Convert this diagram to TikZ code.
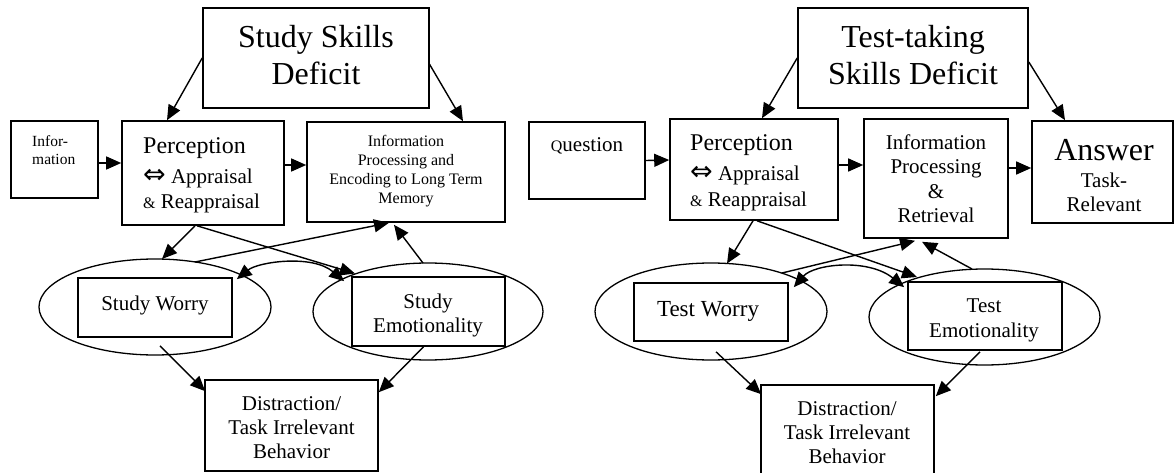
\documentclass[tikz,border=0pt]{standalone}
\usepackage{fontspec}
\setmainfont{Liberation Serif}
\newfontfamily\symf{DejaVu Sans}
\usetikzlibrary{arrows.meta,calc,shapes.geometric}
\newcommand{\dblarrow}{{\fontsize{27}{25}\selectfont\symf ⇔}}
\begin{document}
\begin{tikzpicture}[x=1pt,y=-1pt,
  box/.style={draw,line width=1.6pt,rectangle,inner sep=0pt,fill=white},
  oval/.style={draw,line width=1.3pt,ellipse,inner sep=0pt},
  arr/.style={line width=1.4pt,-{Triangle[length=15pt,width=13pt]}},
  darr/.style={line width=1.4pt,{Triangle[length=15pt,width=13pt]}-{Triangle[length=15pt,width=13pt]}},
  txt/.style={inner sep=0pt,align=center},
  f32/.style={font=\fontsize{32}{37}\selectfont},
  f21/.style={font=\fontsize{21}{24}\selectfont},
  f16/.style={font=\fontsize{16}{18.7}\selectfont},
]
\useasboundingbox (0,0) rectangle (1174,473);
\clip (0,0) rectangle (1174,473);

% ---------- left diagram ----------
\node[oval,minimum width=232pt,minimum height=96pt] (swE) at (155,307) {};
\node[oval,minimum width=230pt,minimum height=97pt] (seE) at (428,311.5) {};

\node[box,minimum width=226pt,minimum height=100pt] (ssd) at (316,58) {};
\node[box,minimum width=87pt,minimum height=77pt] (info) at (54.5,159.5) {};
\node[box,minimum width=162pt,minimum height=104pt] (perc1) at (203,173) {};
\node[box,minimum width=198pt,minimum height=100pt] (ip1) at (406,172) {};
\node[box,minimum width=154pt,minimum height=59pt] (swb) at (155,307.5) {};
\node[box,minimum width=153pt,minimum height=69pt] (seb) at (428.5,311.5) {};
\node[box,minimum width=173pt,minimum height=91pt] (dist1) at (291.5,425.5) {};

\node[txt,f32,anchor=base] (ssdT) at (316,85) {Study Skills\\Deficit};
\node[txt,align=left,anchor=base west,font=\fontsize{15.5}{18}\selectfont] (infoT) at (32,165) {Infor-\\mation};
\node[txt,align=left,anchor=base west,font=\fontsize{21}{25}\selectfont] (perc1T) at (143,208)
  {{\fontsize{24}{25}\selectfont Perception}\\[5pt]\dblarrow{} Appraisal\\{\fontsize{16}{25}\selectfont\&} Reappraisal};
\node[txt,f16,anchor=base] (ip1T) at (406,203) {Information\\Processing and\\Encoding to Long Term\\Memory};
\node[txt,f21,anchor=base] (swT) at (155,310) {Study Worry};
\node[txt,f21,anchor=base] (seT) at (428,332) {Study\\Emotionality};
\node[txt,f21,anchor=base] (dist1T) at (291.5,458) {Distraction/\\Task Irrelevant\\Behavior};

\draw[arr] ($(info.east)+(0,3.5)$) -- ($(perc1.west)+(0,-10)$);
\draw[arr] ($(perc1.east)+(0,-8)$) -- ($(ip1.west)+(0,-7)$);
\draw[arr] (ssd.west) -- ($(perc1.north)+(-36,0)$);
\draw[arr] ($(ssd.east)+(-1,5)$) -- ($(ip1.north)+(57,0)$);
\draw[arr] ($(perc1.south)+(-8,0)$) -- ($(swE.center)+(7,-48)$);
\draw[arr] ($(perc1.south)+(-6,0)$) -- ($(seE.center)+(-73,-38)$);
\draw[arr] ($(swE.center)+(40,-45)$) -- ($(ip1.south)+(-17,0)$);
\draw[arr] ($(seE.center)+(-5,-48.5)$) -- ($(ip1.south)+(-12,2)$);
\draw[darr] ($(swb.north east)+(4,2)$) .. controls (258,262) and (312,254) .. ($(seb.north west)+(-7,5)$);
\draw[arr] ($(swb.south)+(5,8)$) -- ($(dist1.north west)+(1,12)$);
\draw[arr] ($(seb.south)+(-5,0)$) -- ($(dist1.north east)+(0,13)$);

% ---------- right diagram ----------
\node[oval,minimum width=232pt,minimum height=97pt] (twE) at (711,311.5) {};
\node[oval,minimum width=231pt,minimum height=96pt] (teE) at (984.5,317) {};

\node[box,minimum width=230pt,minimum height=100pt] (tsd) at (913,58) {};
\node[box,minimum width=116pt,minimum height=77pt] (q) at (587,160.5) {};
\node[box,minimum width=168pt,minimum height=101pt] (perc2) at (754,169.5) {};
\node[box,minimum width=144pt,minimum height=119pt] (ip2) at (936,178.5) {};
\node[box,minimum width=141pt,minimum height=102pt] (ans) at (1102.5,172) {};
\node[box,minimum width=154pt,minimum height=58pt] (twb) at (711,312) {};
\node[box,minimum width=154pt,minimum height=68pt] (teb) at (985,316) {};
\node[box,minimum width=173pt,minimum height=100pt] (dist2) at (847.5,435) {};

\node[txt,f32,anchor=base] (tsdT) at (913,85) {Test-taking\\Skills Deficit};
\node[txt,f21,anchor=base] (qT) at (587,152) {{\fontsize{16}{18}\selectfont Q}uestion};
\node[txt,align=left,anchor=base west,font=\fontsize{21}{25}\selectfont] (perc2T) at (690,206)
  {{\fontsize{24}{25}\selectfont Perception}\\[5pt]\dblarrow{} Appraisal\\{\fontsize{16}{25}\selectfont\&} Reappraisal};
\node[txt,f21,anchor=base] (ip2T) at (936,222) {Information\\Processing\\\&\\Retrieval};
\node[txt,anchor=base,font=\fontsize{21}{23}\selectfont] (ansT) at (1104,211) {{\fontsize{32}{23}\selectfont Answer}\\[5pt]Task-\\Relevant};
\node[txt,anchor=base,font=\fontsize{23}{24}\selectfont] (twT) at (708,316) {Test Worry};
\node[txt,anchor=base,font=\fontsize{21}{25}\selectfont] (teT) at (984,337) {Test\\Emotionality};
\node[txt,f21,anchor=base] (dist2T) at (847,463) {Distraction/\\Task Irrelevant\\Behavior};

\draw[arr] (q.east) -- ($(perc2.west)+(0,-9.5)$);
\draw[arr] ($(perc2.east)+(0,-4.5)$) -- ($(ip2.west)+(0,-13.5)$);
\draw[arr] ($(ip2.east)+(0,-10.5)$) -- ($(ans.west)+(0,-4)$);
\draw[arr] (tsd.west) -- ($(perc2.north)+(8,0)$);
\draw[arr] ($(tsd.east)+(0,4)$) -- ($(ans.north)+(-37.5,0)$);
\draw[arr] ($(perc2.south)+(-1,0)$) -- ($(twE.center)+(16,-48)$);
\draw[arr] ($(perc2.south)+(3,0)$) -- ($(teE.center)+(-67.5,-40)$);
\draw[arr] ($(twE.center)+(71,-38.5)$) -- ($(ip2.south)+(-21,2)$);
\draw[arr] ($(teE.center)+(-12.5,-48)$) -- ($(ip2.south)+(-14,3)$);
\draw[darr] ($(twb.north east)+(5,5)$) .. controls (814,264) and (868,258) .. ($(teb.north west)+(-3,6)$);
\draw[arr] ($(twb.south)+(5,10)$) -- ($(dist2.north west)+(1,10)$);
\draw[arr] ($(teb.south)+(-5,1)$) -- ($(dist2.north east)+(1,12)$);
\end{tikzpicture}
\end{document}
